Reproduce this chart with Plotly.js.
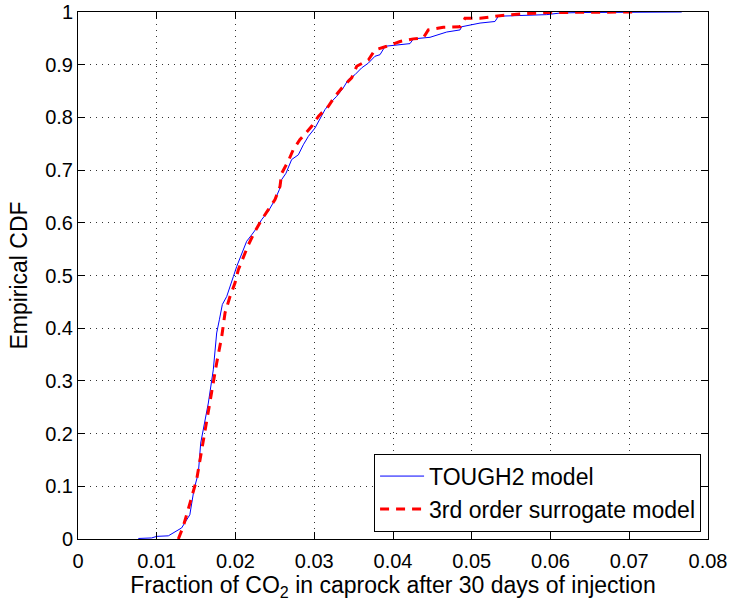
<!DOCTYPE html>
<html>
<head>
<meta charset="utf-8">
<script src="https://cdn.plot.ly/plotly-3.0.1.min.js"></script>
<style>html,body{margin:0;padding:0;background:#fff;}#chart{width:735px;height:607px;}</style>
</head>
<body>
<div id="chart"></div>
<script>
// TOUGH2 model empirical CDF
var toughX = [0.00766,0.00935,0.0100,0.01147,0.01316,0.0138,0.0142,0.01473,0.01528,0.01558,0.01591,0.01655,0.01718,0.01761,0.01795,0.01833,0.01888,0.01947,0.01973,0.02015,0.02057,0.02108,0.02142,0.02205,0.02269,0.02332,0.02417,0.02502,0.02557,0.02586,0.02641,0.02713,0.02798,0.02861,0.02925,0.0301,0.03073,0.03137,0.032,0.03285,0.03369,0.03433,0.03517,0.03602,0.03687,0.03771,0.03835,0.039,0.04216,0.04258,0.0447,0.04682,0.04851,0.04872,0.05105,0.05295,0.05338,0.0557,0.05952,0.0612,0.06375,0.07666];
var toughY = [0.001,0.002,0.005,0.006,0.021,0.037,0.046,0.094,0.125,0.182,0.207,0.258,0.321,0.391,0.416,0.445,0.460,0.489,0.498,0.517,0.533,0.552,0.565,0.577,0.590,0.606,0.622,0.644,0.663,0.682,0.694,0.720,0.729,0.748,0.764,0.780,0.796,0.815,0.827,0.840,0.856,0.872,0.881,0.894,0.903,0.916,0.919,0.935,0.940,0.949,0.952,0.962,0.966,0.972,0.979,0.982,0.992,0.993,0.995,0.998,0.999,1.0];
// 3rd order surrogate model empirical CDF
var surrX = [0.01274,0.01337,0.01422,0.01507,0.01571,0.01634,0.01698,0.01761,0.01825,0.01867,0.0193,0.01994,0.02036,0.021,0.02163,0.02248,0.02332,0.02417,0.02502,0.02565,0.02586,0.0267,0.02734,0.02819,0.02904,0.02967,0.03052,0.03179,0.03263,0.03369,0.03475,0.03539,0.03687,0.03771,0.0392,0.04089,0.04258,0.04385,0.04448,0.04639,0.04851,0.04914,0.05105,0.05359,0.05697,0.05994,0.07073];
var surrY = [0.0,0.024,0.068,0.113,0.169,0.226,0.277,0.334,0.384,0.429,0.460,0.486,0.511,0.536,0.558,0.584,0.606,0.625,0.644,0.669,0.694,0.717,0.739,0.758,0.773,0.783,0.802,0.821,0.840,0.859,0.875,0.897,0.909,0.928,0.935,0.944,0.949,0.951,0.966,0.971,0.972,0.988,0.988,0.993,0.997,0.999,1.0];
var xTicks = [0,0.01,0.02,0.03,0.04,0.05,0.06,0.07,0.08];
var xTickText = ["0","0.01","0.02","0.03","0.04","0.05","0.06","0.07","0.08"];
var yTicks = [0,0.1,0.2,0.3,0.4,0.5,0.6,0.7,0.8,0.9,1];
var yTickText = ["0","0.1","0.2","0.3","0.4","0.5","0.6","0.7","0.8","0.9","1"];

var traces = [
  {x: toughX, y: toughY, type: 'scatter', mode: 'lines', name: 'TOUGH2 model',
   line: {color: '#0000ff', width: 1}},
  {x: surrX, y: surrY, type: 'scatter', mode: 'lines', name: '3rd order surrogate model',
   line: {color: '#ff0000', width: 3, dash: '9px,7px'}}
];
var fam = 'Liberation Sans, Arial, sans-serif';
var tickFont = {family: fam, size: 20, color: '#000'};
var titleFont = {family: fam, size: 23, color: '#000'};
var legendFont = {family: fam, size: 23, color: '#000'};
var axisCommon = {
  showline: true, linecolor: '#000', linewidth: 1, mirror: 'ticks',
  ticks: 'inside', ticklen: 7, tickcolor: '#000',
  showgrid: true, gridcolor: '#333', griddash: '1px,5px', gridwidth: 1,
  zeroline: false, tickfont: tickFont
};
var layout = {
  width: 735, height: 607,
  margin: {l: 78, r: 27, t: 12, b: 68},
  paper_bgcolor: '#fff', plot_bgcolor: '#fff',
  font: titleFont,
  showlegend: true,
  xaxis: Object.assign({}, axisCommon, {
    range: [0, 0.08], tickvals: xTicks, ticktext: xTickText, ticklabelstandoff: 4,
    title: {text: 'Fraction of CO<sub>2</sub> in caprock after 30 days of injection', font: titleFont, standoff: 0}
  }),
  yaxis: Object.assign({}, axisCommon, {
    range: [0, 1], tickvals: yTicks, ticktext: yTickText,
    title: {text: 'Empirical CDF', font: titleFont, standoff: 11}
  }),
  legend: {
    x: 0.989, y: 0.014, xanchor: 'right', yanchor: 'bottom',
    bgcolor: '#fff', bordercolor: '#000', borderwidth: 1,
    font: legendFont, tracegroupgap: 0, itemwidth: 44
  }
};
Plotly.newPlot('chart', traces, layout, {displayModeBar: false, staticPlot: true});
</script>
</body>
</html>
